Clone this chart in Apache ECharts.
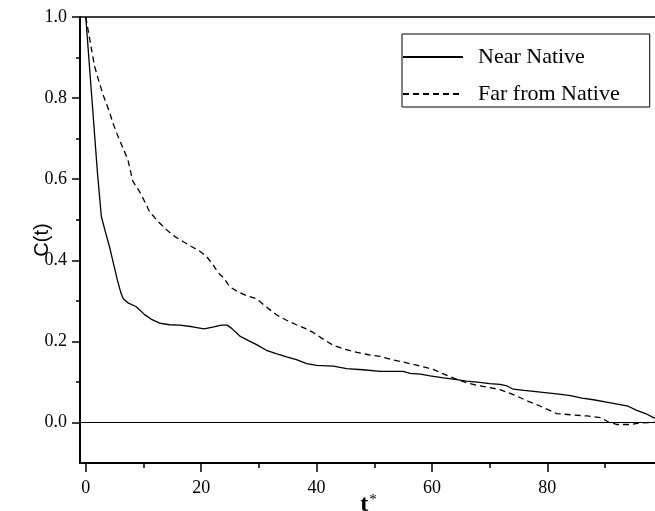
<!DOCTYPE html>
<html>
<head>
<meta charset="utf-8">
<script src="https://cdn.jsdelivr.net/npm/echarts@6/dist/echarts.min.js"></script>
<style>
html,body{margin:0;padding:0;background:#fff;}
#chart{width:655px;height:511px;}
</style>
</head>
<body>
<div id="chart"></div>
<script>
// ---- data ----
var nearT = [0,1,2,2.7,3.4,4.1,5,5.5,6.1,6.5,7.3,8.7,10.2,11.3,12.8,14.5,16.3,18.5,20.5,22,23.5,24.5,25.3,26.7,28.2,29.6,31.3,33,34.8,36.5,38.3,40,42.9,45.2,48,51,53,55,56.2,58,59.7,62,64,66,68.3,70,71.8,73,74.1,76,78,80,82,84,86,88,90,92.6,94,95.5,97,98.4,99];
var nearC = [1.0,0.81,0.62,0.508,0.47,0.434,0.38,0.35,0.319,0.305,0.295,0.286,0.266,0.255,0.245,0.241,0.240,0.236,0.231,0.235,0.240,0.240,0.232,0.213,0.202,0.192,0.178,0.170,0.162,0.155,0.145,0.141,0.139,0.133,0.130,0.126,0.126,0.126,0.121,0.119,0.115,0.110,0.106,0.102,0.099,0.096,0.094,0.090,0.082,0.079,0.076,0.073,0.070,0.066,0.060,0.056,0.051,0.044,0.040,0.030,0.022,0.012,0.008];
var farT = [0,0.5,1.5,2.3,3.2,4.0,4.8,5.6,6.5,7.3,8.15,9.3,10.2,11.05,12.5,14.0,15.4,17.0,18.3,19.6,20.9,22.0,22.9,24.0,24.9,26.4,28.0,29.6,31.3,33.1,34.8,36.5,38.0,39.4,41.2,42.9,45.0,47.0,49,51,53,55.6,57.5,59.1,60.2,61.6,63.1,64.5,66,68,70,71.8,73.3,74.7,76.7,78.8,80.2,81.6,84,86.9,89.2,90.6,92,94.4,96.1,98.4,99];
var farC = [1.0,0.96,0.88,0.84,0.80,0.77,0.735,0.705,0.675,0.648,0.595,0.57,0.545,0.52,0.496,0.475,0.459,0.445,0.434,0.424,0.41,0.39,0.37,0.355,0.335,0.322,0.312,0.305,0.285,0.265,0.252,0.241,0.232,0.222,0.205,0.19,0.18,0.173,0.167,0.163,0.155,0.147,0.141,0.135,0.131,0.122,0.113,0.105,0.098,0.091,0.086,0.081,0.073,0.065,0.052,0.04,0.031,0.022,0.019,0.016,0.012,0.001,-0.005,-0.005,-0.001,0.0,0.0];
var xMajor = [0,20,40,60,80];
var xMinor = [10,30,50,70,90];
var yMajor = [0,0.2,0.4,0.6,0.8,1.0];
var yMinor = [0.1,0.3,0.5,0.7,0.9];
var seriesNames = ['Near Native','Far from Native'];

function pairs(t,c){ return t.map(function(v,i){ return [v,c[i]]; }); }

var serif = '"Liberation Serif","DejaVu Serif",serif';
function tickAxis(pos, min, max, vals, len){
  return {type:'value', min:min, max:max, position:pos,
    axisLine:{show:false, onZero:false},
    axisTick:{show:true, inside:false, customValues:vals, length:len, lineStyle:{color:'#000', width:1.5}},
    axisLabel:{show:false}, splitLine:{show:false}};
}
var chart = echarts.init(document.getElementById('chart'), null, {renderer:'canvas'});
chart.setOption({
  backgroundColor:'#fff',
  animation:false,
  grid:{left:80, right:-2, top:17, bottom:48, containLabel:false, outerBoundsMode:'none'},
  legend:{
    orient:'vertical', left:402, top:34,
    data:seriesNames,
    itemWidth:60, itemHeight:14, itemGap:15,
    padding:[12,30,2,0],
    borderColor:'#000', borderWidth:1, borderRadius:0,
    itemStyle:{color:'transparent', borderColor:'transparent', borderWidth:0, opacity:0},
    formatter:function(n){ return '{a|' + n + '}'; },
    textStyle:{fontFamily:serif, fontSize:22, color:'#000',
      rich:{a:{fontFamily:serif, fontSize:22, color:'#000', padding:[0,0,0,10]}}}
  },
  xAxis:[
    {type:'value', min:-1, max:99, position:'bottom',
     axisLine:{show:true, onZero:false, lineStyle:{color:'#000', width:2}},
     axisTick:{show:false},
     axisLabel:{show:true, customValues:xMajor, margin:16, fontFamily:serif, fontSize:18, color:'#000'},
     splitLine:{show:false},
     name:'{t|t}{s|*}', nameLocation:'middle', nameGap:30, nameMoveOverlap:false,
     nameTextStyle:{rich:{t:{fontFamily:serif, fontSize:24, fontWeight:'bold', color:'#000'}, s:{fontFamily:serif, fontSize:15, color:'#000', verticalAlign:'top', padding:[0,0,8,1]}}}
    },
    tickAxis('bottom', -1, 99, xMajor, 9),
    tickAxis('bottom', -1, 99, xMinor, 5),
    {type:'value', min:-1, max:99, position:'top',
     axisLine:{show:true, onZero:false, lineStyle:{color:'#000', width:1.5}},
     axisTick:{show:false}, axisLabel:{show:false}, splitLine:{show:false}
    }
  ],
  yAxis:[
    {type:'value', min:-0.1, max:1.0, position:'left',
     axisLine:{show:true, onZero:false, lineStyle:{color:'#000', width:2}},
     axisTick:{show:false},
     axisLabel:{show:true, customValues:yMajor, margin:13, fontFamily:serif, fontSize:18, color:'#000',
       formatter:function(v){ return v.toFixed(1); }},
     splitLine:{show:false},
     name:'C(t)', nameLocation:'middle', nameGap:28, nameRotate:90, nameMoveOverlap:false,
     nameTextStyle:{fontFamily:'"Liberation Sans",Arial,sans-serif', fontSize:20, color:'#000'}
    },
    tickAxis('left', -0.1, 1.0, yMajor, 8),
    tickAxis('left', -0.1, 1.0, yMinor, 4)
  ],
  series:[
    {name:seriesNames[0], type:'line', xAxisIndex:0, yAxisIndex:0, data:pairs(nearT,nearC),
     showSymbol:false, symbol:'none', smooth:false,
     lineStyle:{color:'#000', width:1.3, type:'solid'}, itemStyle:{color:'#000'},
     markLine:{silent:true, symbol:['none','none'], label:{show:false},
       lineStyle:{color:'#000', width:1, type:'solid'}, data:[{yAxis:0}]}
    },
    {name:seriesNames[1], type:'line', xAxisIndex:0, yAxisIndex:0, data:pairs(farT,farC),
     showSymbol:false, symbol:'none', smooth:false,
     lineStyle:{color:'#000', width:1.3, type:[6,4]}, itemStyle:{color:'#000'}
    }
  ]
});
</script>
</body>
</html>
